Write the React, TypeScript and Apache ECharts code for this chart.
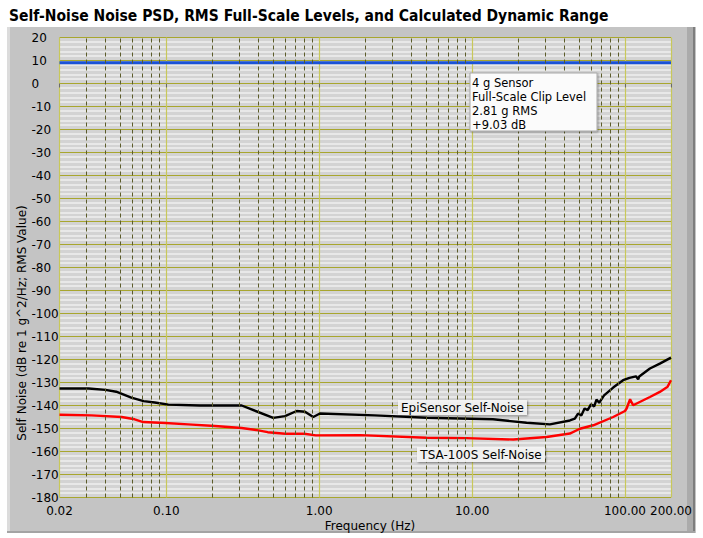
import React, { useEffect, useRef } from "react";
import * as echarts from "echarts";

// ---- data ----
const titleText = "Self-Noise Noise PSD, RMS Full-Scale Levels, and Calculated Dynamic Range";
const xAxisTitle = "Frequency (Hz)";
const yAxisTitle = "Self Noise (dB re 1 g^2/Hz; RMS Value)";

const freqRange = [0.02, 200];
const dbRange = [-180, 20];
const dbStep = 10;

const minorFreqLines = [
  0.03, 0.04, 0.05, 0.06, 0.07, 0.08, 0.09,
  0.2, 0.3, 0.4, 0.5, 0.6, 0.7, 0.8, 0.9,
  2, 3, 4, 5, 6, 7, 8, 9,
  20, 30, 40, 50, 60, 70, 80, 90,
];

const clipLevelDb = 9.03;
const clipFreq = [0.02, 200];

const episensorFreq = [
  0.02, 0.031, 0.04, 0.047, 0.059, 0.071, 0.084, 0.103, 0.166, 0.311,
  0.5, 0.597, 0.712, 0.807, 0.914, 1.01, 2.31, 5.03, 13.7, 22.7,
  32.3, 43.6, 47, 49.3, 51.8, 54.4, 57, 59.9, 62.9, 65.1,
  67.8, 73, 83.7, 97.2, 107, 118, 122, 124, 145.6, 169, 200,
];
const episensorDb = [
  -132.6, -132.6, -133.2, -134, -136.6, -138.1, -138.7, -139.6, -140, -140,
  -145.4, -144.6, -142.4, -142.7, -145, -143.5, -144.3, -145.3, -146, -147.5,
  -148.2, -146.5, -145.7, -143.5, -144.3, -141.3, -142, -139.5, -140.4, -137.4,
  -138.8, -135.6, -132.2, -129, -128, -127.3, -128.6, -127.4, -123.9, -121.8, -119.2,
];

const tsaFreq = [
  0.02, 0.0325, 0.051, 0.062, 0.0706, 0.098, 0.139, 0.208, 0.311, 0.399,
  0.46, 0.6, 0.8, 0.95, 1.85, 5.03, 9.2, 18.6, 30.7, 43.6,
  50.7, 62, 83.7, 100, 102.5, 108, 113, 145.6, 169, 190, 200,
];
const tsaDb = [
  -144, -144.3, -145, -146, -147.2, -147.6, -148.2, -148.9, -149.8, -150.8,
  -151.6, -152.3, -152.3, -153, -152.9, -154, -154.2, -154.8, -153.7, -152.2,
  -150.1, -148.6, -145, -142.4, -141.3, -137.3, -139.9, -136.3, -134.1, -131.8, -129,
];

const annotationLines = ["4 g Sensor", "Full-Scale Clip Level", "2.81 g RMS", "+9.03 dB"];
const episensorLabel = "EpiSensor Self-Noise";
const tsaLabel = "TSA-100S Self-Noise";

const FONT = "'DejaVu Sans', Verdana, sans-serif";

function zip(xs: number[], ys: number[]) {
  return xs.map((x, i) => [x, ys[i]]);
}

function labelBox(cx: number, cy: number, w: number, text: string) {
  return {
    type: "group",
    x: cx - w / 2,
    y: cy - 7,
    children: [
      {
        type: "rect",
        z: 60,
        shape: { x: 0, y: 0, width: w, height: 15 },
        style: {
          fill: "rgba(245,245,245,0.92)",
          shadowBlur: 2,
          shadowOffsetX: 1,
          shadowOffsetY: 1,
          shadowColor: "rgba(0,0,0,0.45)",
        },
      },
      {
        type: "text",
        z: 61,
        style: {
          text,
          x: w / 2,
          y: 7.5,
          align: "center",
          verticalAlign: "middle",
          fontFamily: FONT,
          fontSize: 12,
          fill: "#000",
        },
      },
    ],
  };
}

export default function App() {
  const ref = useRef<HTMLDivElement>(null);

  useEffect(() => {
    if (!ref.current) return;
    const chart = echarts.init(ref.current, undefined, { renderer: "svg" });

    const option: any = {
      animation: false,
      backgroundColor: "#ffffff",
      grid: {
        left: 59.5,
        right: 32,
        top: 37.5,
        bottom: 40.5,
        show: true,
        backgroundColor: "#d3d3d3",
        borderWidth: 0,
      },
      xAxis: {
        type: "log",
        logBase: 10,
        min: freqRange[0],
        max: freqRange[1],
        splitNumber: 4,
        axisLine: { show: false },
        axisTick: { show: true, length: 4, lineStyle: { color: "#6a6a6a" } },
        axisLabel: {
          margin: 7,
          color: "#000",
          fontFamily: FONT,
          fontSize: 12,
          formatter: (v: number) => v.toFixed(2),
        },
        splitLine: { show: true, lineStyle: { color: "#c8c85a", width: 1.2 } },
      },
      yAxis: {
        type: "value",
        min: dbRange[0],
        max: dbRange[1],
        interval: dbStep,
        axisLine: { show: false },
        axisTick: { show: false },
        axisLabel: {
          align: "left",
          margin: 28,
          color: "#000",
          fontFamily: FONT,
          fontSize: 12,
        },
        splitLine: { show: true, lineStyle: { color: "#a8a62e", width: 1.2 } },
        minorTick: { show: false, splitNumber: 5 },
        minorSplitLine: { show: true, lineStyle: { color: "#efefef", width: 1.6 } },
      },
      series: [
        {
          name: "grid",
          type: "line",
          z: 1,
          silent: true,
          showSymbol: false,
          data: [[freqRange[0], dbRange[0]]],
          lineStyle: { opacity: 0 },
          markLine: {
            silent: true,
            symbol: ["none", "none"],
            label: { show: false },
            lineStyle: { type: [4, 3], color: "#5c5c2a", width: 1 },
            data: minorFreqLines.map((f) => ({ xAxis: f })),
          },
        },
        {
          name: "clip",
          type: "line",
          z: 3,
          showSymbol: false,
          data: zip(clipFreq, clipFreq.map(() => clipLevelDb)),
          lineStyle: { color: "#1b52d6", width: 3 },
        },
        {
          name: "EpiSensor",
          type: "line",
          z: 4,
          showSymbol: false,
          data: zip(episensorFreq, episensorDb),
          lineStyle: { color: "#000000", width: 2.4 },
        },
        {
          name: "TSA-100S",
          type: "line",
          z: 4,
          showSymbol: false,
          data: zip(tsaFreq, tsaDb),
          lineStyle: { color: "#ff0000", width: 2.4 },
        },
      ],
      graphic: [
        // panel
        { type: "rect", z: -10, shape: { x: 7, y: 27, width: 689, height: 506 }, style: { fill: "#c4c4c4" } },
        { type: "rect", z: -9, shape: { x: 7, y: 27, width: 3, height: 506 }, style: { fill: "#dcdcdc" } },
        { type: "rect", z: -9, shape: { x: 687, y: 27, width: 6, height: 506 }, style: { fill: "#ababab" } },
        { type: "rect", z: -9, shape: { x: 693, y: 27, width: 2, height: 506 }, style: { fill: "#7e7e7e" } },
        { type: "rect", z: -9, shape: { x: 7, y: 531, width: 688, height: 2 }, style: { fill: "#a4a4a4" } },
        // title
        {
          type: "text",
          z: 50,
          style: {
            text: titleText,
            x: 9,
            y: 16,
            verticalAlign: "middle",
            fontFamily: "'DejaVu Sans Condensed', sans-serif",
            fontWeight: "bold",
            fontSize: 15.5,
            fill: "#000",
          },
        },
        // y axis title
        {
          type: "text",
          z: 50,
          x: 22,
          y: 323,
          rotation: Math.PI / 2,
          style: {
            text: yAxisTitle,
            x: 0,
            y: 0,
            align: "center",
            verticalAlign: "middle",
            fontFamily: FONT,
            fontSize: 12,
            fill: "#000",
          },
        },
        // x axis title
        {
          type: "text",
          z: 50,
          style: {
            text: xAxisTitle,
            x: 370,
            y: 526,
            align: "center",
            verticalAlign: "middle",
            fontFamily: FONT,
            fontSize: 12,
            fill: "#000",
          },
        },
        // annotation box
        {
          type: "group",
          x: 470,
          y: 73,
          children: [
            {
              type: "rect",
              z: 60,
              shape: { x: 0, y: 0, width: 127, height: 58 },
              style: {
                fill: "#fbfbfb",
                stroke: "#a8a8a8",
                lineWidth: 1,
                shadowBlur: 2,
                shadowOffsetX: 1,
                shadowOffsetY: 1,
                shadowColor: "rgba(0,0,0,0.35)",
              },
            },
            ...annotationLines.map((t, i) => ({
              type: "text",
              z: 61,
              style: {
                text: t,
                x: 2,
                y: 10 + 14 * i,
                verticalAlign: "middle",
                fontFamily: FONT,
                fontSize: 11.5,
                fill: "#000",
              },
            })),
          ],
        },
        labelBox(462.5, 407, 129, episensorLabel),
        labelBox(481, 454, 128, tsaLabel),
      ],
    };

    chart.setOption(option);
    return () => chart.dispose();
  }, []);

  return (
    <div
      ref={ref}
      style={{ position: "fixed", left: 0, top: 0, width: 703, height: 538 }}
    />
  );
}
